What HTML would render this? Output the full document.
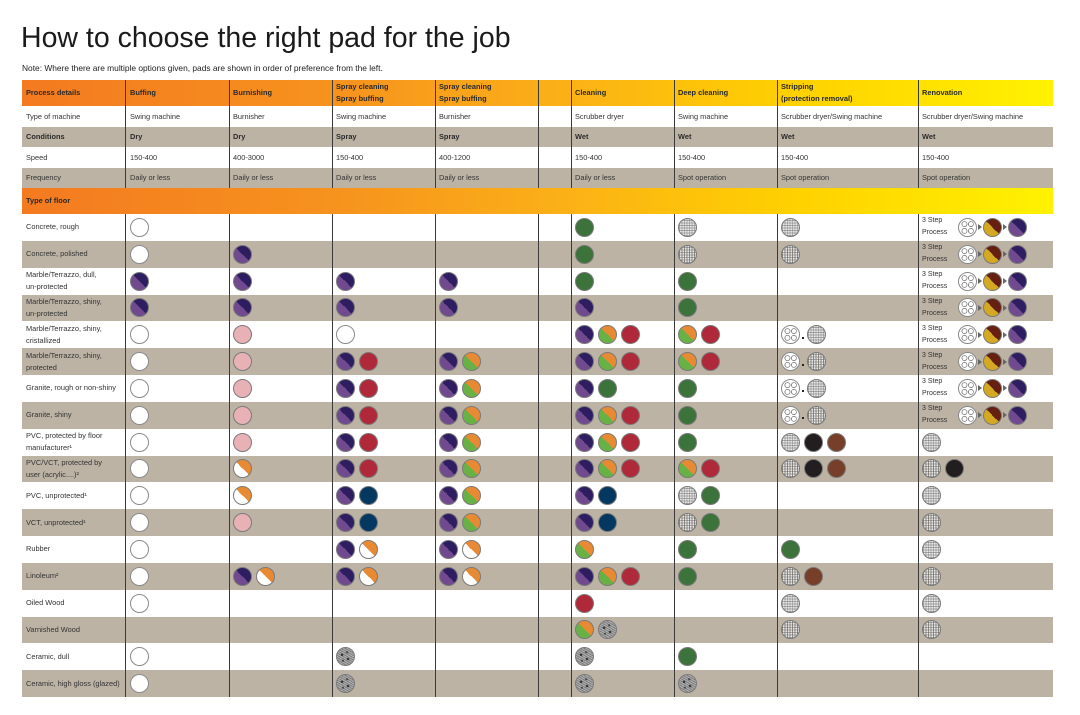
<!DOCTYPE html>
<html><head><meta charset="utf-8"><style>
*{margin:0;padding:0;box-sizing:border-box}
body{width:1080px;height:715px;background:#fff;position:relative;overflow:hidden;font-family:"Liberation Sans",sans-serif;color:#333}
.t{position:absolute;left:21px;top:22px;font-size:28.5px;color:#1a1a1a;white-space:nowrap}
.n{position:absolute;left:22px;top:63px;font-size:8.4px;color:#222;white-space:nowrap}
.r{position:absolute;left:22px;width:1031px}
.g{background:#bcb3a5}
.hd{background:linear-gradient(90deg,#f47a20 0%,#f6921e 30%,#fbb017 52%,#ffd100 75%,#fff200 100%)}
.c{position:absolute;top:0;bottom:0;display:flex;align-items:center;font-size:7.4px;line-height:12px;white-space:nowrap}
.b{font-weight:bold;color:#2a2a2a}
.c0{left:4px;width:100px}
.c1{left:108px}.c2{left:211px}.c3{left:314px}.c4{left:417px}
.c5{left:553px}.c6{left:656px}.c7{left:759px}.c8{left:900px}
.v{position:absolute;width:1px;background:#3a3a3a}
.p{display:inline-block;width:19px;height:19px;border-radius:50%;border:1px solid #7a7a7a;margin-right:4px;flex:none}
.W{background:#fff;border-color:#8a8a8a}
.P{background:linear-gradient(45deg,#70498e 50%,#2e1d60 50%)}
.K{background:#e8b1b6}
.R{background:#b0293a}
.G{background:#3b733a}
.OG{background:linear-gradient(45deg,#68b245 50%,#e88a33 50%)}
.OW{background:linear-gradient(45deg,#fff 50%,#e88a33 50%)}
.N{background:#043860}
.B{background:#221e1f}
.Br{background:#773f29}
.Y{background:linear-gradient(45deg,#d4a820 50%,#66200f 50%)}
.H{background:repeating-linear-gradient(0deg,rgba(90,90,90,.45) 0 1px,transparent 1px 2.5px),repeating-linear-gradient(90deg,rgba(90,90,90,.45) 0 1px,#e8e8e8 1px 2.5px)}
.S{background:radial-gradient(circle at 30% 40%,#333 0 1px,transparent 1.5px),radial-gradient(circle at 65% 65%,#333 0 1px,transparent 1.5px),radial-gradient(circle at 60% 25%,#444 0 .8px,transparent 1.3px),radial-gradient(circle at 35% 75%,#444 0 .8px,transparent 1.3px),repeating-linear-gradient(30deg,#7e7e7e 0 1px,#b0b0b0 1px 2px)}
.T{background:radial-gradient(circle at 32% 30%,#fff 0 2px,#888 2.2px 2.8px,transparent 3px),radial-gradient(circle at 70% 30%,#fff 0 2px,#888 2.2px 2.8px,transparent 3px),radial-gradient(circle at 32% 70%,#fff 0 2px,#888 2.2px 2.8px,transparent 3px),radial-gradient(circle at 70% 70%,#fff 0 2px,#888 2.2px 2.8px,transparent 3px),#fff;border-color:#888}
.dot{display:inline-block;width:2px;height:2px;background:#222;margin:6px 3px 0 -2px}
.ar{display:inline-block;width:0;height:0;border-top:3px solid transparent;border-bottom:3px solid transparent;border-left:4px solid #666;margin:0 1px 0 -3px}
.s3{font-size:7px;line-height:12px;width:36px;white-space:normal}
</style></head><body>
<div class="t">How to choose the right pad for the job</div>
<div class="n">Note: Where there are multiple options given, pads are shown in order of preference from the left.</div>

<div class="r hd" style="top:80px;height:26px">
<div class="c c0 b">Process details</div><div class="c c1 b">Buffing</div><div class="c c2 b">Burnishing</div>
<div class="c c3 b">Spray cleaning<br>Spray buffing</div><div class="c c4 b">Spray cleaning<br>Spray buffing</div>
<div class="c c5 b">Cleaning</div><div class="c c6 b">Deep cleaning</div><div class="c c7 b">Stripping<br>(protection removal)</div><div class="c c8 b">Renovation</div>
</div>
<div class="r" style="top:106px;height:21px">
<div class="c c0">Type of machine</div><div class="c c1">Swing machine</div><div class="c c2">Burnisher</div><div class="c c3">Swing machine</div><div class="c c4">Burnisher</div><div class="c c5">Scrubber dryer</div><div class="c c6">Swing machine</div><div class="c c7">Scrubber dryer/Swing machine</div><div class="c c8">Scrubber dryer/Swing machine</div>
</div>
<div class="r g" style="top:127px;height:20px">
<div class="c c0 b">Conditions</div><div class="c c1 b">Dry</div><div class="c c2 b">Dry</div><div class="c c3 b">Spray</div><div class="c c4 b">Spray</div><div class="c c5 b">Wet</div><div class="c c6 b">Wet</div><div class="c c7 b">Wet</div><div class="c c8 b">Wet</div>
</div>
<div class="r" style="top:147px;height:21px">
<div class="c c0">Speed</div><div class="c c1">150-400</div><div class="c c2">400-3000</div><div class="c c3">150-400</div><div class="c c4">400-1200</div><div class="c c5">150-400</div><div class="c c6">150-400</div><div class="c c7">150-400</div><div class="c c8">150-400</div>
</div>
<div class="r g" style="top:168px;height:20px">
<div class="c c0">Frequency</div><div class="c c1">Daily or less</div><div class="c c2">Daily or less</div><div class="c c3">Daily or less</div><div class="c c4">Daily or less</div><div class="c c5">Daily or less</div><div class="c c6">Spot operation</div><div class="c c7">Spot operation</div><div class="c c8">Spot operation</div>
</div>
<div class="r hd" style="top:188px;height:26px"><div class="c c0 b">Type of floor</div></div>

<div class="r" style="top:214px;height:26.8px"><div class="c c0">Concrete, rough</div><div class="c c1"><i class="p W"></i></div><div class="c c5"><i class="p G"></i></div><div class="c c6"><i class="p H"></i></div><div class="c c7"><i class="p H"></i></div><div class="c c8"><span class="s3">3 Step Process</span><i class="p T"></i><i class="ar"></i><i class="p Y"></i><i class="ar"></i><i class="p P"></i></div></div>
<div class="r g" style="top:240.8px;height:26.9px"><div class="c c0">Concrete, polished</div><div class="c c1"><i class="p W"></i></div><div class="c c2"><i class="p P"></i></div><div class="c c5"><i class="p G"></i></div><div class="c c6"><i class="p H"></i></div><div class="c c7"><i class="p H"></i></div><div class="c c8"><span class="s3">3 Step Process</span><i class="p T"></i><i class="ar"></i><i class="p Y"></i><i class="ar"></i><i class="p P"></i></div></div>
<div class="r" style="top:267.7px;height:26.8px"><div class="c c0">Marble/Terrazzo, dull,<br>un-protected</div><div class="c c1"><i class="p P"></i></div><div class="c c2"><i class="p P"></i></div><div class="c c3"><i class="p P"></i></div><div class="c c4"><i class="p P"></i></div><div class="c c5"><i class="p G"></i></div><div class="c c6"><i class="p G"></i></div><div class="c c8"><span class="s3">3 Step Process</span><i class="p T"></i><i class="ar"></i><i class="p Y"></i><i class="ar"></i><i class="p P"></i></div></div>
<div class="r g" style="top:294.5px;height:26.8px"><div class="c c0">Marble/Terrazzo, shiny,<br>un-protected</div><div class="c c1"><i class="p P"></i></div><div class="c c2"><i class="p P"></i></div><div class="c c3"><i class="p P"></i></div><div class="c c4"><i class="p P"></i></div><div class="c c5"><i class="p P"></i></div><div class="c c6"><i class="p G"></i></div><div class="c c8"><span class="s3">3 Step Process</span><i class="p T"></i><i class="ar"></i><i class="p Y"></i><i class="ar"></i><i class="p P"></i></div></div>
<div class="r" style="top:321.3px;height:26.9px"><div class="c c0">Marble/Terrazzo, shiny,<br>cristallized</div><div class="c c1"><i class="p W"></i></div><div class="c c2"><i class="p K"></i></div><div class="c c3"><i class="p W"></i></div><div class="c c5"><i class="p P"></i><i class="p OG"></i><i class="p R"></i></div><div class="c c6"><i class="p OG"></i><i class="p R"></i></div><div class="c c7"><i class="p T"></i><i class="dot"></i><i class="p H"></i></div><div class="c c8"><span class="s3">3 Step Process</span><i class="p T"></i><i class="ar"></i><i class="p Y"></i><i class="ar"></i><i class="p P"></i></div></div>
<div class="r g" style="top:348.2px;height:26.8px"><div class="c c0">Marble/Terrazzo, shiny,<br>protected</div><div class="c c1"><i class="p W"></i></div><div class="c c2"><i class="p K"></i></div><div class="c c3"><i class="p P"></i><i class="p R"></i></div><div class="c c4"><i class="p P"></i><i class="p OG"></i></div><div class="c c5"><i class="p P"></i><i class="p OG"></i><i class="p R"></i></div><div class="c c6"><i class="p OG"></i><i class="p R"></i></div><div class="c c7"><i class="p T"></i><i class="dot"></i><i class="p H"></i></div><div class="c c8"><span class="s3">3 Step Process</span><i class="p T"></i><i class="ar"></i><i class="p Y"></i><i class="ar"></i><i class="p P"></i></div></div>
<div class="r" style="top:375px;height:26.8px"><div class="c c0">Granite, rough or non-shiny</div><div class="c c1"><i class="p W"></i></div><div class="c c2"><i class="p K"></i></div><div class="c c3"><i class="p P"></i><i class="p R"></i></div><div class="c c4"><i class="p P"></i><i class="p OG"></i></div><div class="c c5"><i class="p P"></i><i class="p G"></i></div><div class="c c6"><i class="p G"></i></div><div class="c c7"><i class="p T"></i><i class="dot"></i><i class="p H"></i></div><div class="c c8"><span class="s3">3 Step Process</span><i class="p T"></i><i class="ar"></i><i class="p Y"></i><i class="ar"></i><i class="p P"></i></div></div>
<div class="r g" style="top:401.8px;height:26.9px"><div class="c c0">Granite, shiny</div><div class="c c1"><i class="p W"></i></div><div class="c c2"><i class="p K"></i></div><div class="c c3"><i class="p P"></i><i class="p R"></i></div><div class="c c4"><i class="p P"></i><i class="p OG"></i></div><div class="c c5"><i class="p P"></i><i class="p OG"></i><i class="p R"></i></div><div class="c c6"><i class="p G"></i></div><div class="c c7"><i class="p T"></i><i class="dot"></i><i class="p H"></i></div><div class="c c8"><span class="s3">3 Step Process</span><i class="p T"></i><i class="ar"></i><i class="p Y"></i><i class="ar"></i><i class="p P"></i></div></div>
<div class="r" style="top:428.7px;height:26.8px"><div class="c c0">PVC, protected by floor<br>manufacturer¹</div><div class="c c1"><i class="p W"></i></div><div class="c c2"><i class="p K"></i></div><div class="c c3"><i class="p P"></i><i class="p R"></i></div><div class="c c4"><i class="p P"></i><i class="p OG"></i></div><div class="c c5"><i class="p P"></i><i class="p OG"></i><i class="p R"></i></div><div class="c c6"><i class="p G"></i></div><div class="c c7"><i class="p H"></i><i class="p B"></i><i class="p Br"></i></div><div class="c c8"><i class="p H"></i></div></div>
<div class="r g" style="top:455.5px;height:26.8px"><div class="c c0">PVC/VCT, protected by<br>user (acrylic....)²</div><div class="c c1"><i class="p W"></i></div><div class="c c2"><i class="p OW"></i></div><div class="c c3"><i class="p P"></i><i class="p R"></i></div><div class="c c4"><i class="p P"></i><i class="p OG"></i></div><div class="c c5"><i class="p P"></i><i class="p OG"></i><i class="p R"></i></div><div class="c c6"><i class="p OG"></i><i class="p R"></i></div><div class="c c7"><i class="p H"></i><i class="p B"></i><i class="p Br"></i></div><div class="c c8"><i class="p H"></i><i class="p B"></i></div></div>
<div class="r" style="top:482.3px;height:26.9px"><div class="c c0">PVC, unprotected¹</div><div class="c c1"><i class="p W"></i></div><div class="c c2"><i class="p OW"></i></div><div class="c c3"><i class="p P"></i><i class="p N"></i></div><div class="c c4"><i class="p P"></i><i class="p OG"></i></div><div class="c c5"><i class="p P"></i><i class="p N"></i></div><div class="c c6"><i class="p H"></i><i class="p G"></i></div><div class="c c8"><i class="p H"></i></div></div>
<div class="r g" style="top:509.2px;height:26.8px"><div class="c c0">VCT, unprotected¹</div><div class="c c1"><i class="p W"></i></div><div class="c c2"><i class="p K"></i></div><div class="c c3"><i class="p P"></i><i class="p N"></i></div><div class="c c4"><i class="p P"></i><i class="p OG"></i></div><div class="c c5"><i class="p P"></i><i class="p N"></i></div><div class="c c6"><i class="p H"></i><i class="p G"></i></div><div class="c c8"><i class="p H"></i></div></div>
<div class="r" style="top:536px;height:26.8px"><div class="c c0">Rubber</div><div class="c c1"><i class="p W"></i></div><div class="c c3"><i class="p P"></i><i class="p OW"></i></div><div class="c c4"><i class="p P"></i><i class="p OW"></i></div><div class="c c5"><i class="p OG"></i></div><div class="c c6"><i class="p G"></i></div><div class="c c7"><i class="p G"></i></div><div class="c c8"><i class="p H"></i></div></div>
<div class="r g" style="top:562.8px;height:26.9px"><div class="c c0">Linoleum²</div><div class="c c1"><i class="p W"></i></div><div class="c c2"><i class="p P"></i><i class="p OW"></i></div><div class="c c3"><i class="p P"></i><i class="p OW"></i></div><div class="c c4"><i class="p P"></i><i class="p OW"></i></div><div class="c c5"><i class="p P"></i><i class="p OG"></i><i class="p R"></i></div><div class="c c6"><i class="p G"></i></div><div class="c c7"><i class="p H"></i><i class="p Br"></i></div><div class="c c8"><i class="p H"></i></div></div>
<div class="r" style="top:589.7px;height:26.8px"><div class="c c0">Oiled Wood</div><div class="c c1"><i class="p W"></i></div><div class="c c5"><i class="p R"></i></div><div class="c c7"><i class="p H"></i></div><div class="c c8"><i class="p H"></i></div></div>
<div class="r g" style="top:616.5px;height:26.8px"><div class="c c0">Varnished Wood</div><div class="c c5"><i class="p OG"></i><i class="p S"></i></div><div class="c c7"><i class="p H"></i></div><div class="c c8"><i class="p H"></i></div></div>
<div class="r" style="top:643.3px;height:26.9px"><div class="c c0">Ceramic, dull</div><div class="c c1"><i class="p W"></i></div><div class="c c3"><i class="p S"></i></div><div class="c c5"><i class="p S"></i></div><div class="c c6"><i class="p G"></i></div></div>
<div class="r g" style="top:670.2px;height:26.8px"><div class="c c0">Ceramic, high gloss (glazed)</div><div class="c c1"><i class="p W"></i></div><div class="c c3"><i class="p S"></i></div><div class="c c5"><i class="p S"></i></div><div class="c c6"><i class="p S"></i></div></div>

<div class="v" style="left:125px;top:80px;height:108px"></div><div class="v" style="left:125px;top:214px;height:483px"></div>
<div class="v" style="left:229px;top:80px;height:108px"></div><div class="v" style="left:229px;top:214px;height:483px"></div>
<div class="v" style="left:332px;top:80px;height:108px"></div><div class="v" style="left:332px;top:214px;height:483px"></div>
<div class="v" style="left:435px;top:80px;height:108px"></div><div class="v" style="left:435px;top:214px;height:483px"></div>
<div class="v" style="left:538px;top:80px;height:108px"></div><div class="v" style="left:538px;top:214px;height:483px"></div>
<div class="v" style="left:571px;top:80px;height:108px"></div><div class="v" style="left:571px;top:214px;height:483px"></div>
<div class="v" style="left:674px;top:80px;height:108px"></div><div class="v" style="left:674px;top:214px;height:483px"></div>
<div class="v" style="left:777px;top:80px;height:108px"></div><div class="v" style="left:777px;top:214px;height:483px"></div>
<div class="v" style="left:918px;top:80px;height:108px"></div><div class="v" style="left:918px;top:214px;height:483px"></div>
</body></html>
